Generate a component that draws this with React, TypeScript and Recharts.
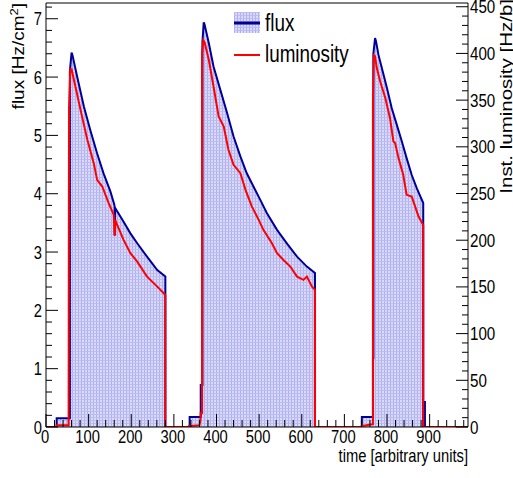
import React from 'react';
import { ComposedChart, Area, Line, XAxis, YAxis, ReferenceLine } from 'recharts';

// flux [Hz/cm^2] vs time (histogram outline, vertical edges as repeated times)
const fluxPoints: [number, number][] = [
  [0, 0], [25, 0], [25, 0.15], [56, 0.15], [56, 6.1], [60, 6.42], [62, 6.38], [73, 6.01],
  [89, 5.49], [104, 5.09], [120, 4.69], [135, 4.35], [151, 4.04], [160, 3.82], [161, 3.78],
  [161, 3.3], [162, 3.3], [162, 3.76], [182, 3.52], [198, 3.32], [214, 3.15], [237, 2.92],
  [261, 2.69], [280, 2.58], [280, 0],
  [337, 0], [337, 0.17], [363, 0.17], [363, 0.72], [367, 0.72], [367, 6.6], [370, 6.94],
  [372, 6.9], [382, 6.58], [393, 6.18], [409, 5.78], [425, 5.38], [440, 4.98], [456, 4.64],
  [471, 4.35], [487, 4.12], [503, 3.89], [518, 3.67], [542, 3.38], [565, 3.15], [589, 2.92],
  [612, 2.75], [631, 2.64], [631, 0],
  [741, 0], [741, 0.17], [767, 0.17], [767, 1.18], [768, 1.18], [768, 6.4], [772, 6.67],
  [774, 6.62], [780, 6.38], [788, 6.15], [800, 5.81], [811, 5.47], [823, 5.18], [835, 4.89],
  [846, 4.61], [858, 4.32], [870, 4.09], [885, 3.84], [885, 0], [887, 0], [887, 0.43],
  [889, 0.43], [889, 0], [990, 0],
];

// instantaneous luminosity [Hz/b] vs time
const lumiPoints: [number, number][] = [
  [0, 0], [25, 0], [25, 2], [53, 2], [54, 342], [57, 383], [60, 383], [69, 364.6], [81, 339.6],
  [97, 307.5], [112, 282.5], [120, 264.6], [132, 257.5], [147, 239.7], [159, 227.1],
  [161, 206], [162, 206], [162, 222], [167, 216.4], [182, 200.4], [198, 186.1], [214, 177.1],
  [237, 161], [261, 150.3], [280, 141.4], [280, 0],
  [335, 0], [335, 1], [360, 2], [362, 6], [363, 15], [366, 15], [366, 400], [369, 414],
  [372, 412], [382, 393], [393, 364.6], [405, 332.5], [417, 321.8], [428, 296.8], [440, 280.7],
  [456, 271.8], [468, 253.9], [483, 236], [499, 221.8], [510, 211.1], [530, 196.8],
  [542, 186.1], [557, 178.9], [573, 171.8], [589, 161], [604, 157.5], [612, 161],
  [624, 150.3], [631, 146.8], [631, 0],
  [741, 0], [741, 1], [765, 3], [767, 3], [767, 350], [769, 398], [772, 397], [776, 384.3],
  [784, 370], [796, 352.2], [807, 330.7], [815, 305.7], [819, 304], [827, 287.9], [838, 270],
  [846, 248.6], [858, 246.8], [866, 236], [874, 225.3], [885, 216.4], [885, 0], [990, 0],
];

const xMajorTicks = [0, 100, 200, 300, 400, 500, 600, 700, 800, 900];
const xMinorStep = 20;
const xDomain: [number, number] = [0, 990];
const leftMajorTicks = [0, 1, 2, 3, 4, 5, 6, 7];
const leftMinorStep = 0.2;
const leftDomain: [number, number] = [0, 7.27];
const rightMajorTicks = [0, 50, 100, 150, 200, 250, 300, 350, 400, 450];
const rightMinorStep = 10;
const rightDomain: [number, number] = [0, 454];

const seriesNames = { flux: 'flux', lumi: 'luminosity' };
const titles = {
  x: 'time [arbitrary units]',
  left: 'flux [Hz/cm',
  leftSup: '2',
  leftEnd: ']',
  right: 'Inst. luminosity [Hz/b]',
};

const fluxData = fluxPoints.map(([t, v]) => ({ t, flux: v }));
const lumiData = lumiPoints.map(([t, v]) => ({ t, lumi: v }));

const minorTicks = (domain: [number, number], step: number) => {
  const out: number[] = [];
  const n = Math.floor(domain[1] / step + 1e-9);
  for (let k = 0; k <= n; k++) out.push(Math.round(k * step * 1000) / 1000);
  return out;
};
const xTicks = minorTicks(xDomain, xMinorStep);
const leftTicks = minorTicks(leftDomain, leftMinorStep);
const rightTicks = minorTicks(rightDomain, rightMinorStep);

const W = 513;
const H = 478;
const FL = 46;
const FR = 468;
const FT = 3;
const FB = 427;
const FONT = "'Liberation Sans', Arial, Helvetica, sans-serif";
const SX = 0.82;
const BLUE = '#000099';
const RED = '#ff0000';

const isMajor = (v: number, list: number[]) => list.some((m) => Math.abs(m - v) < 1e-6);

const LeftTick = (props: any) => {
  const { y, payload } = props;
  const v = payload.value;
  const major = isMajor(v, leftMajorTicks);
  return (
    <g>
      <line x1={FL} x2={FL + (major ? 12 : 6)} y1={y} y2={y} stroke="#000" strokeWidth={1} />
      {major && (
        <text transform={`translate(${FL - 4},${y + 6.5}) scale(${SX},1)`} textAnchor="end" fontSize={18} fontFamily={FONT} fill="#000">
          {v}
        </text>
      )}
    </g>
  );
};

const RightTick = (props: any) => {
  const { y, payload } = props;
  const v = payload.value;
  const major = isMajor(v, rightMajorTicks);
  return (
    <g>
      <line x1={FR} x2={FR - (major ? 12 : 6)} y1={y} y2={y} stroke="#000" strokeWidth={1} />
      {major && (
        <text transform={`translate(${FR + 2},${y + 6.5}) scale(${SX},1)`} textAnchor="start" fontSize={18.5} fontFamily={FONT} fill="#000">
          {v}
        </text>
      )}
    </g>
  );
};

const BottomTick = (props: any) => {
  const { x, payload } = props;
  const v = payload.value;
  const major = isMajor(v, xMajorTicks);
  return (
    <g>
      <line x1={x} x2={x} y1={FB} y2={FB - (major ? 13 : 7)} stroke="#000" strokeWidth={1} />
      {major && (
        <text transform={`translate(${x - 1},${FB + 16}) scale(${SX},1)`} textAnchor="middle" fontSize={18} fontFamily={FONT} fill="#000">
          {v}
        </text>
      )}
    </g>
  );
};

export default function App() {
  return (
    <div style={{ position: 'absolute', left: 0, top: 0, width: W, height: H, background: '#fff' }}>
      <ComposedChart width={W} height={H} margin={{ top: FT, right: 0, bottom: 0, left: 1 }}>
        <defs>
          <pattern id="fluxFill" width="3" height="3" patternUnits="userSpaceOnUse">
            <rect width="3" height="3" fill="#dadafb" />
            <rect width="1" height="3" fill="#aeaef0" />
            <rect width="3" height="1" fill="#bcbcf3" />
          </pattern>
        </defs>
        <XAxis
          type="number"
          dataKey="t"
          domain={xDomain}
          ticks={xTicks}
          interval={0}
          allowDataOverflow
          tick={BottomTick}
          tickLine={false}
          axisLine={{ stroke: '#000', strokeWidth: 1 }}
          height={H - FB}
        />
        <YAxis
          yAxisId="left"
          orientation="left"
          type="number"
          domain={leftDomain}
          ticks={leftTicks}
          interval={0}
          allowDataOverflow
          tick={LeftTick}
          tickLine={false}
          axisLine={{ stroke: '#000', strokeWidth: 1 }}
          width={FL - 1}
        />
        <YAxis
          yAxisId="right"
          orientation="right"
          type="number"
          domain={rightDomain}
          ticks={rightTicks}
          interval={0}
          allowDataOverflow
          tick={RightTick}
          tickLine={false}
          axisLine={{ stroke: '#000', strokeWidth: 1 }}
          width={W - FR}
        />
        <ReferenceLine yAxisId="left" y={leftDomain[1]} stroke="#000" strokeWidth={1} ifOverflow="visible" />
        <Area
          yAxisId="left"
          data={fluxData}
          dataKey="flux"
          name={seriesNames.flux}
          type="linear"
          stroke={BLUE}
          strokeWidth={2}
          fill="url(#fluxFill)"
          fillOpacity={1}
          dot={false}
          activeDot={false}
          isAnimationActive={false}
        />
        <Line
          yAxisId="right"
          data={lumiData}
          dataKey="lumi"
          name={seriesNames.lumi}
          type="linear"
          stroke={RED}
          strokeWidth={2}
          dot={false}
          activeDot={false}
          isAnimationActive={false}
        />
      </ComposedChart>
      <svg width={W} height={H} style={{ position: 'absolute', left: 0, top: 0, pointerEvents: 'none', overflow: 'hidden' }}>
        {/* legend */}
        <rect x={234} y={12} width={26} height={21} fill="url(#fluxFill)" />
        <line x1={234} x2={260} y1={23} y2={23} stroke={BLUE} strokeWidth={3} />
        <text transform={`translate(265,31) scale(${SX},1)`} fontSize={23} fontFamily={FONT} fill="#000">
          {seriesNames.flux}
        </text>
        <line x1={234} x2={260} y1={55} y2={55} stroke={RED} strokeWidth={2} />
        <text transform={`translate(265,62) scale(${SX},1)`} fontSize={23} fontFamily={FONT} fill="#000">
          {seriesNames.lumi}
        </text>
        {/* x title */}
        <text transform={`translate(${FR},462) scale(${SX},1)`} textAnchor="end" fontSize={18} fontFamily={FONT} fill="#000">
          {titles.x}
        </text>
        {/* left title */}
        <text transform={`translate(24,3) scale(${SX},1) rotate(-90)`} textAnchor="end" fontSize={19} fontFamily={FONT} fill="#000">
          {titles.left}
          <tspan dy={-7} fontSize={13}>{titles.leftSup}</tspan>
          <tspan dy={7}>{titles.leftEnd}</tspan>
        </text>
        {/* right title */}
        <text transform={`translate(512,-1) scale(${SX},1) rotate(-90)`} textAnchor="end" fontSize={20.5} fontFamily={FONT} fill="#000">
          {titles.right}
        </text>
      </svg>
    </div>
  );
}
